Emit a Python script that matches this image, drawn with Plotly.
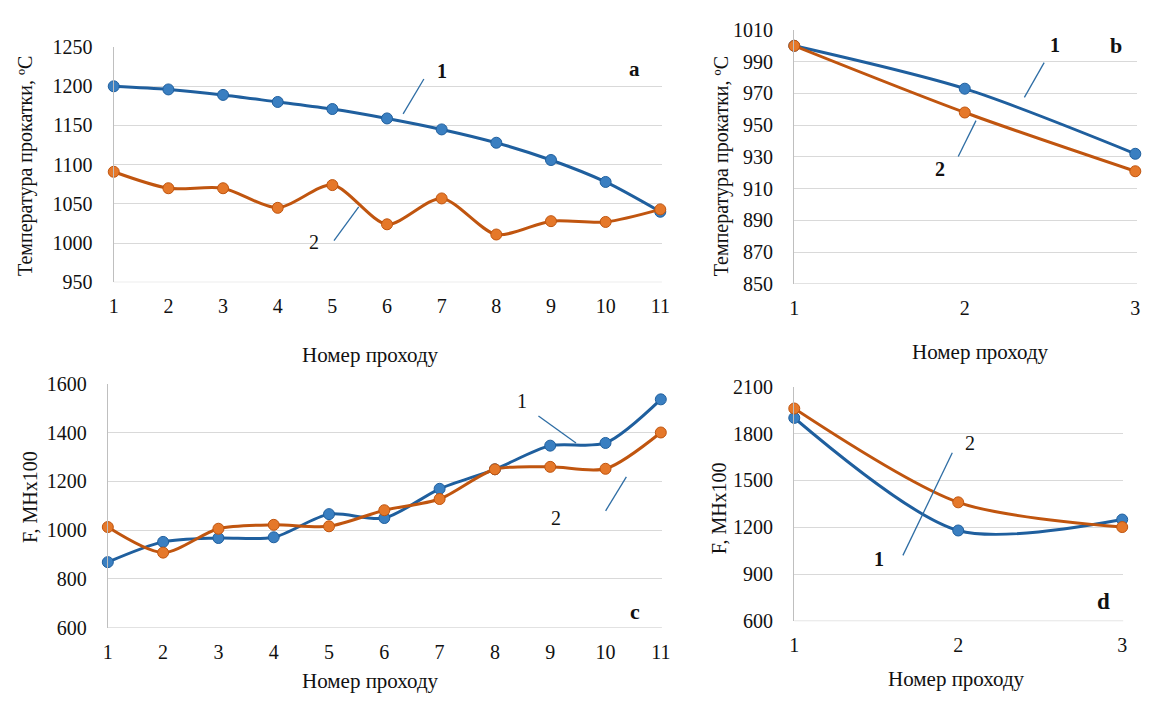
import plotly.graph_objects as go

# page body has an 8px margin on every side: size the figure so the page
# is exactly the window size (no scrollbars, no rescaling)
OFF = 8
W, H = 1154 - 2 * OFF, 707 - 2 * OFF

# ---- data ----
passes_11 = [1, 2, 3, 4, 5, 6, 7, 8, 9, 10, 11]
passes_3 = [1, 2, 3]

temp_a_1 = [1200, 1196, 1189, 1180, 1171, 1159, 1145, 1128, 1106, 1078, 1040]
temp_a_2 = [1091, 1070, 1070, 1045, 1074, 1024, 1057, 1011, 1028, 1027, 1043]

temp_b_1 = [1000, 973, 932]
temp_b_2 = [1000, 958, 921]

force_c_1 = [869, 952, 968, 971, 1066, 1050, 1170, 1250, 1347, 1358, 1537]
force_c_2 = [1013, 908, 1006, 1022, 1016, 1082, 1128, 1250, 1260, 1252, 1401]

force_d_1 = [1900, 1180, 1250]
force_d_2 = [1960, 1360, 1202]

y_title_temp = "Температура прокатки, ºС"
y_title_force = "F, МНх100"
x_title = "Номер проходу"

FONT = "Liberation Serif, Times New Roman, serif"
BLUE_LINE = "#1F5F9E"
BLUE_MARK = "#3A7FC1"
ORANGE_LINE = "#C0550F"
ORANGE_MARK = "#E5782A"
GRID = "#D9D9D9"
TXT = "#111111"


def px(x):
    return (x - OFF) / W


def py(y):
    return 1 - (y - OFF) / H


fig = go.Figure()

panels = [
    ("", passes_11, temp_a_1, temp_a_2, [1, 11.03], [950, 1250], 50, (110, 665), (37, 280)),
    ("2", passes_3, temp_b_1, temp_b_2, [1, 3.01], [850, 1010], 20, (799, 1146), (19.3, 281.7)),
    ("3", passes_11, force_c_1, force_c_2, [1, 11.02], [600, 1600], 200, (104, 665), (385, 636.7)),
    ("4", passes_3, force_d_1, force_d_2, [1, 3.006], [600, 2100], 300, (799, 1132), (387.7, 630)),
]

for suf, xs, s1, s2, xr, yr, dt, xd, yd in panels:
    xa = "x" + suf
    ya = "y" + suf
    for ys, lc, mc in ((s1, BLUE_LINE, BLUE_MARK), (s2, ORANGE_LINE, ORANGE_MARK)):
        fig.add_trace(go.Scatter(
            x=xs, y=ys, xaxis=xa, yaxis=ya, mode="lines+markers",
            line=dict(color=lc, width=3, shape="spline", smoothing=0.8),
            marker=dict(size=11, color=mc, line=dict(color=lc, width=1)),
            cliponaxis=False, showlegend=False,
        ))
    fig.layout["xaxis" + suf] = dict(
        domain=[px(xd[0]), min(1, px(xd[1]))], range=xr, anchor=ya,
        tickmode="array", tickvals=xs, ticktext=[str(v) for v in xs],
        showgrid=False, zeroline=False, showline=False,
        ticks="", ticklabelstandoff=10,
        tickfont=dict(family=FONT, size=20, color=TXT),
    )
    fig.layout["yaxis" + suf] = dict(
        domain=[py(yd[1]), min(1, py(yd[0]))], range=yr, anchor=xa,
        dtick=dt, tick0=yr[0], showgrid=True, gridcolor=GRID, gridwidth=1.3,
        zeroline=False, showline=True, linecolor="#BFBFBF", linewidth=1.3,
        ticks="", ticklabelstandoff=16,
        tickfont=dict(family=FONT, size=20, color=TXT),
    )
    fig.add_shape(type="line", xref=xa + " domain", yref=ya, x0=0, x1=1,
                  y0=yr[0], y1=yr[0], line=dict(color=GRID, width=1.3))

ann = []


def text(x, y, s, size=20, bold=False, angle=0):
    ann.append(dict(
        x=px(x), y=py(y), xref="paper", yref="paper", showarrow=False,
        text=("<b>%s</b>" % s) if bold else s, textangle=angle,
        font=dict(family=FONT, size=size, color=TXT),
        xanchor="center", yanchor="middle",
    ))


def leader(x0, y0, x1, y1):
    fig.add_shape(type="line", xref="paper", yref="paper",
                  x0=px(x0), y0=py(y0), x1=px(x1), y1=py(y1),
                  line=dict(color="#2E6DA4", width=1.3))


# axis titles
text(20, 160, y_title_temp, angle=-90)
text(370, 355, x_title, size=21)
text(725, 160, y_title_temp, angle=-90)
text(988, 352, x_title, size=21)
text(25, 502, y_title_force, angle=-90)
text(370, 692, x_title, size=21)
text(723, 513, y_title_force, angle=-90)
text(963, 690, x_title, size=21)

# panel a
text(442, 62, "1", bold=True)
leader(424, 70, 403, 106)
text(313, 238, "2")
leader(333, 237, 358, 202)
text(637, 60, "a", size=21, bold=True)

# panel b
text(1063, 35, "1", bold=True)
leader(1052, 53, 1032, 89)
text(947, 163, "2", bold=True)
leader(965, 150, 983, 113)
text(1125, 35, "b", size=22, bold=True)

# panel c
text(523, 403, "1")
leader(540, 418, 578, 446)
text(558, 523, "2")
leader(608, 516, 629, 481)
text(638, 620, "c", size=22, bold=True)

# panel d
text(977, 446, "2")
leader(959, 456, 909, 562)
text(885, 566, "1", bold=True)
text(1112, 610, "d", size=23, bold=True)

fig.update_layout(
    width=W, height=H, margin=dict(l=0, r=0, t=0, b=0),
    paper_bgcolor="white", plot_bgcolor="white",
    annotations=ann,
)

fig.write_html("out.html")
